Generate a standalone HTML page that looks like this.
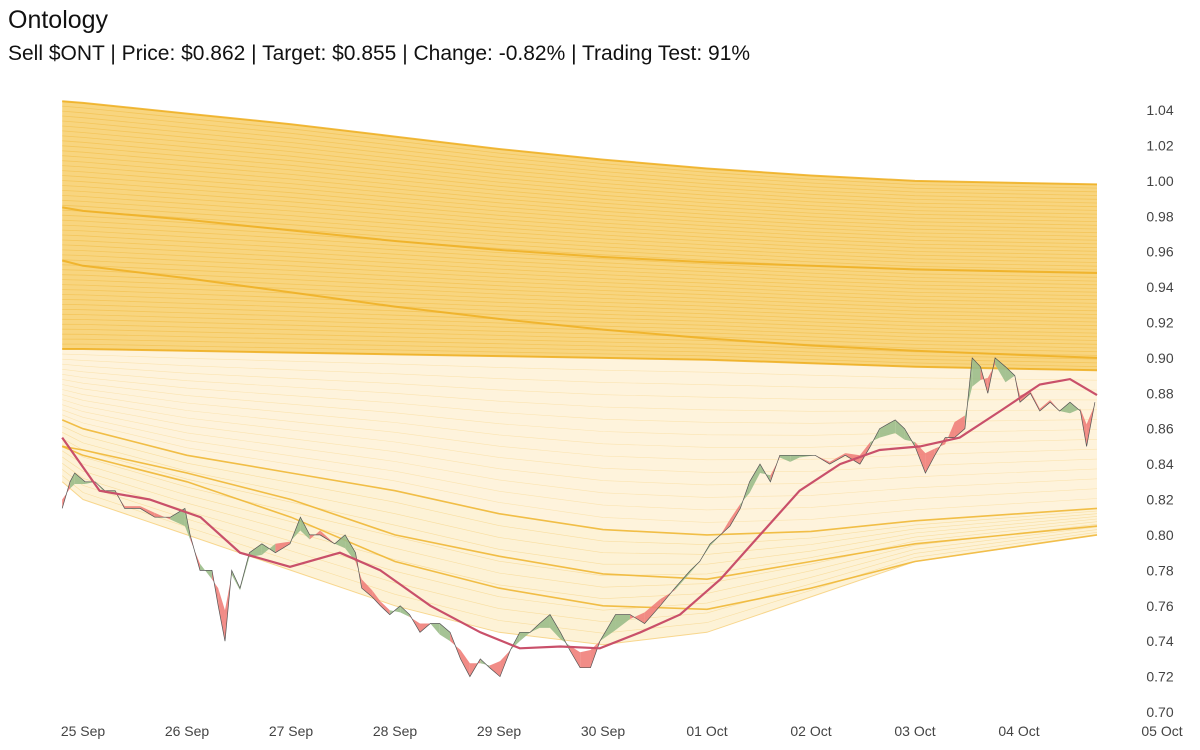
<!DOCTYPE html>
<html><head><meta charset="utf-8"><style>
body{margin:0;background:#fff;font-family:"Liberation Sans",sans-serif}
#wrap{position:relative;width:1200px;height:750px;overflow:hidden}
</style></head><body>
<div id="wrap">
<svg id="chart" width="1200" height="750">
<text x="8" y="28" font-size="25" fill="#111">Ontology</text>
<text x="8" y="60" font-size="21" fill="#111">Sell $ONT | Price: $0.862 | Target: $0.855 | Change: -0.82% | Trading Test: 91%</text>
<g id="bands"></g>
<g id="marks"></g>
<g id="axes"></g>
</svg>
</div>
<script>
const priceDays=[-0.2,-0.125,-0.08,0.02,0.115,0.21,0.31,0.4,0.55,0.69,0.84,0.98,1.03,1.125,1.24,1.3,1.365,1.43,1.51,1.6,1.72,1.85,1.99,2.09,2.18,2.28,2.42,2.52,2.62,2.68,2.78,2.86,2.95,3.05,3.14,3.24,3.34,3.43,3.53,3.63,3.72,3.82,3.91,4.01,4.11,4.2,4.3,4.39,4.49,4.59,4.68,4.78,4.88,4.97,5.12,5.26,5.4,5.55,5.69,5.84,5.93,6.03,6.13,6.22,6.32,6.41,6.51,6.61,6.7,6.8,6.89,7.04,7.18,7.33,7.47,7.57,7.66,7.81,7.9,8.0,8.1,8.19,8.29,8.38,8.48,8.55,8.63,8.7,8.77,8.87,8.96,9.01,9.11,9.2,9.3,9.39,9.49,9.59,9.65,9.73];
const priceVals=[0.815,0.83,0.835,0.83,0.83,0.825,0.825,0.815,0.815,0.81,0.81,0.815,0.80,0.78,0.78,0.76,0.74,0.78,0.77,0.79,0.795,0.79,0.795,0.81,0.80,0.80,0.795,0.80,0.79,0.77,0.765,0.76,0.755,0.76,0.755,0.745,0.75,0.75,0.745,0.73,0.72,0.73,0.725,0.72,0.735,0.745,0.745,0.75,0.755,0.745,0.735,0.725,0.725,0.74,0.755,0.755,0.75,0.76,0.77,0.78,0.785,0.795,0.80,0.805,0.815,0.83,0.84,0.83,0.845,0.845,0.845,0.845,0.84,0.845,0.84,0.85,0.86,0.865,0.86,0.85,0.835,0.845,0.855,0.855,0.86,0.90,0.895,0.88,0.90,0.895,0.89,0.875,0.88,0.87,0.875,0.87,0.875,0.87,0.85,0.875];
const maDays=[-0.2,0.16,0.64,1.13,1.51,1.99,2.47,2.86,3.34,3.82,4.2,4.59,4.97,5.36,5.74,6.13,6.51,6.89,7.28,7.66,8.05,8.43,8.82,9.2,9.49,9.75];
const maVals=[0.855,0.825,0.82,0.81,0.79,0.782,0.79,0.78,0.76,0.745,0.736,0.737,0.736,0.745,0.755,0.775,0.80,0.825,0.84,0.848,0.85,0.855,0.87,0.885,0.888,0.879];
const bandDays=[-0.2,0,1,2,3,4,5,6,7,8,9.75];
const upperTop=[1.045,1.044,1.038,1.032,1.025,1.018,1.012,1.007,1.003,1.0,0.998];
const upperBot=[0.905,0.905,0.904,0.903,0.902,0.901,0.900,0.899,0.897,0.895,0.893];
const stripe1=[0.955,0.952,0.945,0.937,0.929,0.922,0.916,0.911,0.907,0.904,0.900];
const stripe2=[0.985,0.983,0.978,0.972,0.966,0.961,0.957,0.954,0.952,0.950,0.948];
const lower1=[0.865,0.86,0.845,0.835,0.825,0.812,0.803,0.80,0.802,0.808,0.815];
const lower2=[0.85,0.848,0.835,0.82,0.80,0.788,0.778,0.775,0.785,0.795,0.805];
const lower3=[0.85,0.845,0.83,0.81,0.785,0.77,0.76,0.758,0.77,0.785,0.80];
const lower4=[0.83,0.82,0.80,0.78,0.76,0.745,0.738,0.745,0.765,0.785,0.80];
const yTicks=[0.70,0.72,0.74,0.76,0.78,0.80,0.82,0.84,0.86,0.88,0.90,0.92,0.94,0.96,0.98,1.00,1.02,1.04];
const xLabels=["25 Sep","26 Sep","27 Sep","28 Sep","29 Sep","30 Sep","01 Oct","02 Oct","03 Oct","04 Oct","05 Oct"];

const NS="http://www.w3.org/2000/svg";
const X=d=>83+104*d;
const Y=v=>712-(v-0.70)/0.02*35.41;
function mk(tag,attrs,parent){const e=document.createElementNS(NS,tag);for(const k in attrs)e.setAttribute(k,attrs[k]);parent.appendChild(e);return e;}
const bands=document.getElementById('bands'),marks=document.getElementById('marks'),axes=document.getElementById('axes');
const pts=(ds,vs)=>ds.map((d,i)=>X(d).toFixed(1)+","+Y(vs[i]).toFixed(1));
const lerp=(a,b,t)=>a.map((v,i)=>v+(b[i]-v)*t);

let e=mk('polygon',{points:pts(bandDays,upperBot).concat(pts(bandDays,lower1).reverse()).join(' '),fill:'#fef3dc'},bands);

e=mk('polygon',{points:pts(bandDays,lower1).concat(pts(bandDays,lower4).reverse()).join(' '),fill:'#fcedc8',opacity:0.75},bands);

e=mk('polygon',{points:pts(bandDays,upperTop).concat(pts(bandDays,upperBot).reverse()).join(' '),fill:'#f8d57f'},bands);

for(let k=0;k<=50;k++){
  const l=lerp(upperTop,upperBot,k/50);
  e=mk('polyline',{points:pts(bandDays,l).join(' '),fill:'none',stroke:'#efb330','stroke-width':0.8,opacity:0.45},bands);
  
}
for(let k=1;k<14;k++){
  const l=lerp(upperBot,lower1,k/14);
  e=mk('polyline',{points:pts(bandDays,l).join(' '),fill:'none',stroke:'#f5c860','stroke-width':0.6,opacity:0.35},bands);
  
}
for(let k=1;k<10;k++){
  const l=lerp(lower1,lower4,k/10);
  e=mk('polyline',{points:pts(bandDays,l).join(' '),fill:'none',stroke:'#f3c050','stroke-width':0.6,opacity:0.4},bands);
  
}
[upperTop,stripe1,stripe2,upperBot].forEach(s=>{
  e=mk('polyline',{points:pts(bandDays,s).join(' '),fill:'none',stroke:'#eeac1c','stroke-width':2,opacity:0.8},bands);
  
});
[lower1,lower2,lower3].forEach(s=>{
  e=mk('polyline',{points:pts(bandDays,s).join(' '),fill:'none',stroke:'#efb42c','stroke-width':1.6,opacity:0.85},bands);
  
});
e=mk('polyline',{points:pts(bandDays,lower4).join(' '),fill:'none',stroke:'#f3c050','stroke-width':1,opacity:0.6},bands);


const sm=priceVals.map((v,i)=>{const a=priceVals[Math.max(0,i-2)],b=priceVals[Math.min(priceVals.length-1,i+2)];return (a+2*v+b)/4;});
for(let i=0;i<priceVals.length-1;i++){
  const up=(priceVals[i]+priceVals[i+1])>(sm[i]+sm[i+1]);
  e=mk('polygon',{points:[X(priceDays[i])+","+Y(priceVals[i]),X(priceDays[i+1])+","+Y(priceVals[i+1]),X(priceDays[i+1])+","+Y(sm[i+1]),X(priceDays[i])+","+Y(sm[i])].join(' '),fill:up?'#9bbd8a':'#ef7f7a',opacity:0.9},marks);
  
}
e=mk('polyline',{points:pts(priceDays,priceVals).join(' '),fill:'none',stroke:'#555','stroke-width':0.7},marks);

e=mk('polyline',{points:pts(maDays,maVals).join(' '),fill:'none',stroke:'#c9506a','stroke-width':2.2},marks);


yTicks.forEach(v=>{
  const t=mk('text',{x:1160,y:Y(v)+5,'font-size':14,fill:'#444','text-anchor':'middle'},axes);
  t.textContent=v.toFixed(2);
  
});
xLabels.forEach((s,i)=>{
  const x=i===10?1162:X(i);
  const t=mk('text',{x:x,y:736,'font-size':14,fill:'#444','text-anchor':'middle'},axes);
  t.textContent=s;
  
});
</script>
</body></html>
